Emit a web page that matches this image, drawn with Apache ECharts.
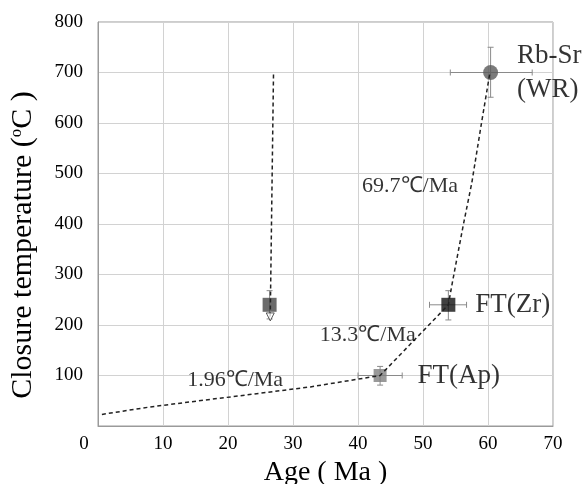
<!DOCTYPE html>
<html>
<head>
<meta charset="utf-8">
<script src="https://cdn.jsdelivr.net/npm/echarts@6/dist/echarts.min.js"></script>
<style>
  html, body { margin: 0; padding: 0; background: #fff; }
  #chart { width: 584px; height: 484px; }
</style>
</head>
<body>
<div id="chart"></div>
<script>
// samples: age (Ma) vs closure temperature (C)
const sampleNames = ['Rb-Sr\n(WR)', 'FT(Zr)', 'FT(Ap)', ''];
const sampleAge = [60.4, 53.9, 43.4, 26.4];
const sampleTemp = [700, 240, 100, 240];
const ageErr = [[54.2, 66.8], [51.0, 56.7], [40.0, 46.8], null];
const tempErr = [[651, 750], [210, 268], [81, 118], [212, 268]];
const sampleColors = ['#5a5a5a', '#111111', '#7f7f7f', '#464646'];

// dashed cooling path
const pathAge = [0.6, 8.0, 32.7, 43.4, 53.9, 54.5, 56.2, 57.5, 59.0, 60.3];
const pathTemp = [23, 37.7, 77.4, 100, 240, 283, 398, 481, 600, 700];

// vertical dashed line ending with arrow
const dropAge = [27.0, 26.5];
const dropTemp = [696, 216];

// cooling rate annotations
const rateText = ['69.7℃/Ma', '13.3℃/Ma', '1.96℃/Ma'];
const rateAge = [48.0, 41.5, 21.1];
const rateTemp = [474, 179, 91];

const serif = '"Liberation Serif", "Times New Roman", serif';
const ink = '#000';
const chart = echarts.init(document.getElementById('chart'));

const errData = sampleAge.map((a, i) => [a, sampleTemp[i],
  ageErr[i] ? ageErr[i][0] : a, ageErr[i] ? ageErr[i][1] : a,
  tempErr[i][0], tempErr[i][1]]);

const labelDist = [19, 20, 31, 0];

chart.setOption({
  animation: false,
  grid: {
    left: 98, right: 31, top: 22, bottom: 58,
    outerBoundsMode: 'none', containLabel: false,
    show: true, borderColor: '#9a9a9a', borderWidth: 1
  },
  xAxis: {
    type: 'value', min: 0, max: 70, interval: 10,
    name: 'Age ( Ma )', nameLocation: 'middle', nameGap: 31,
    nameTextStyle: { fontFamily: serif, fontSize: 28, color: ink },
    axisLine: { lineStyle: { color: '#9a9a9a' } },
    axisTick: { show: false },
    axisLabel: {
      fontFamily: serif, fontSize: 19, color: ink, margin: 9,
      formatter: v => v === 0 ? '{z|0}' : String(v),
      rich: { z: { fontFamily: serif, fontSize: 19, color: ink, padding: [0, 28, 0, 0] } }
    },
    splitLine: { lineStyle: { color: '#d2d2d2' } }
  },
  yAxis: {
    type: 'value', min: 0, max: 800, interval: 100,
    name: 'Closure temperature ({s|o}C )', nameLocation: 'middle', nameGap: 59,
    nameTextStyle: {
      fontFamily: serif, fontSize: 30, color: ink, padding: [0, 42, 0, 0],
      rich: { s: { fontFamily: serif, fontSize: 17, color: ink, verticalAlign: 'top', padding: [0, 0, 14, 0] } }
    },
    axisLine: { lineStyle: { color: '#9a9a9a' } },
    axisTick: { show: false },
    axisLabel: {
      fontFamily: serif, fontSize: 19, color: ink, margin: 15,
      formatter: v => v === 0 ? '' : String(v)
    },
    splitLine: { lineStyle: { color: '#d2d2d2' } }
  },
  series: [
    {
      type: 'custom',
      z: 2,
      data: errData,
      renderItem: (params, api) => {
        const c = api.coord([api.value(0), api.value(1)]);
        const xl = api.coord([api.value(2), api.value(1)]);
        const xh = api.coord([api.value(3), api.value(1)]);
        const yl = api.coord([api.value(0), api.value(4)]);
        const yh = api.coord([api.value(0), api.value(5)]);
        const st = { stroke: '#8a8a8a', lineWidth: 1 };
        const cap = 3;
        const kids = [
          { type: 'line', shape: { x1: c[0], y1: yl[1], x2: c[0], y2: yh[1] }, style: st },
          { type: 'line', shape: { x1: c[0] - cap, y1: yl[1], x2: c[0] + cap, y2: yl[1] }, style: st },
          { type: 'line', shape: { x1: c[0] - cap, y1: yh[1], x2: c[0] + cap, y2: yh[1] }, style: st }
        ];
        if (xh[0] - xl[0] > 1) {
          kids.push(
            { type: 'line', shape: { x1: xl[0], y1: c[1], x2: xh[0], y2: c[1] }, style: st },
            { type: 'line', shape: { x1: xl[0], y1: c[1] - cap, x2: xl[0], y2: c[1] + cap }, style: st },
            { type: 'line', shape: { x1: xh[0], y1: c[1] - cap, x2: xh[0], y2: c[1] + cap }, style: st }
          );
        }
        return { type: 'group', children: kids };
      }
    },
    {
      type: 'scatter',
      z: 3,
      data: sampleAge.map((a, i) => ({
        value: [a, sampleTemp[i]],
        symbol: i === 0 ? 'circle' : 'rect',
        symbolSize: i === 0 ? 15 : (i === 2 ? 13 : 14),
        itemStyle: { color: sampleColors[i] },
        label: {
          show: sampleNames[i] !== '', formatter: sampleNames[i],
          position: 'right', distance: labelDist[i],
          fontFamily: serif, fontSize: 27, color: ink, lineHeight: 34
        }
      }))
    },
    {
      type: 'line',
      z: 4,
      data: pathAge.map((a, i) => [a, pathTemp[i]]),
      symbol: 'none',
      lineStyle: { color: '#222', width: 1.5, type: [4, 3] }
    },
    {
      type: 'line',
      z: 4,
      data: dropAge.map((a, i) => [a, dropTemp[i]]),
      symbol: 'none',
      lineStyle: { color: '#222', width: 1.5, type: [4, 3] }
    },
    {
      type: 'scatter',
      z: 5,
      data: [[dropAge[1], dropTemp[1]]],
      symbol: 'triangle',
      symbolRotate: 180,
      symbolSize: [8, 8],
      itemStyle: { color: '#fff', borderColor: '#333', borderWidth: 1 }
    },
    {
      type: 'scatter',
      z: 6,
      symbolSize: 0,
      data: rateText.map((t, i) => ({
        value: [rateAge[i], rateTemp[i]],
        label: {
          show: true, position: 'inside', formatter: t,
          fontFamily: serif, fontSize: 22, color: ink
        }
      }))
    }
  ]
});
</script>
</body>
</html>
